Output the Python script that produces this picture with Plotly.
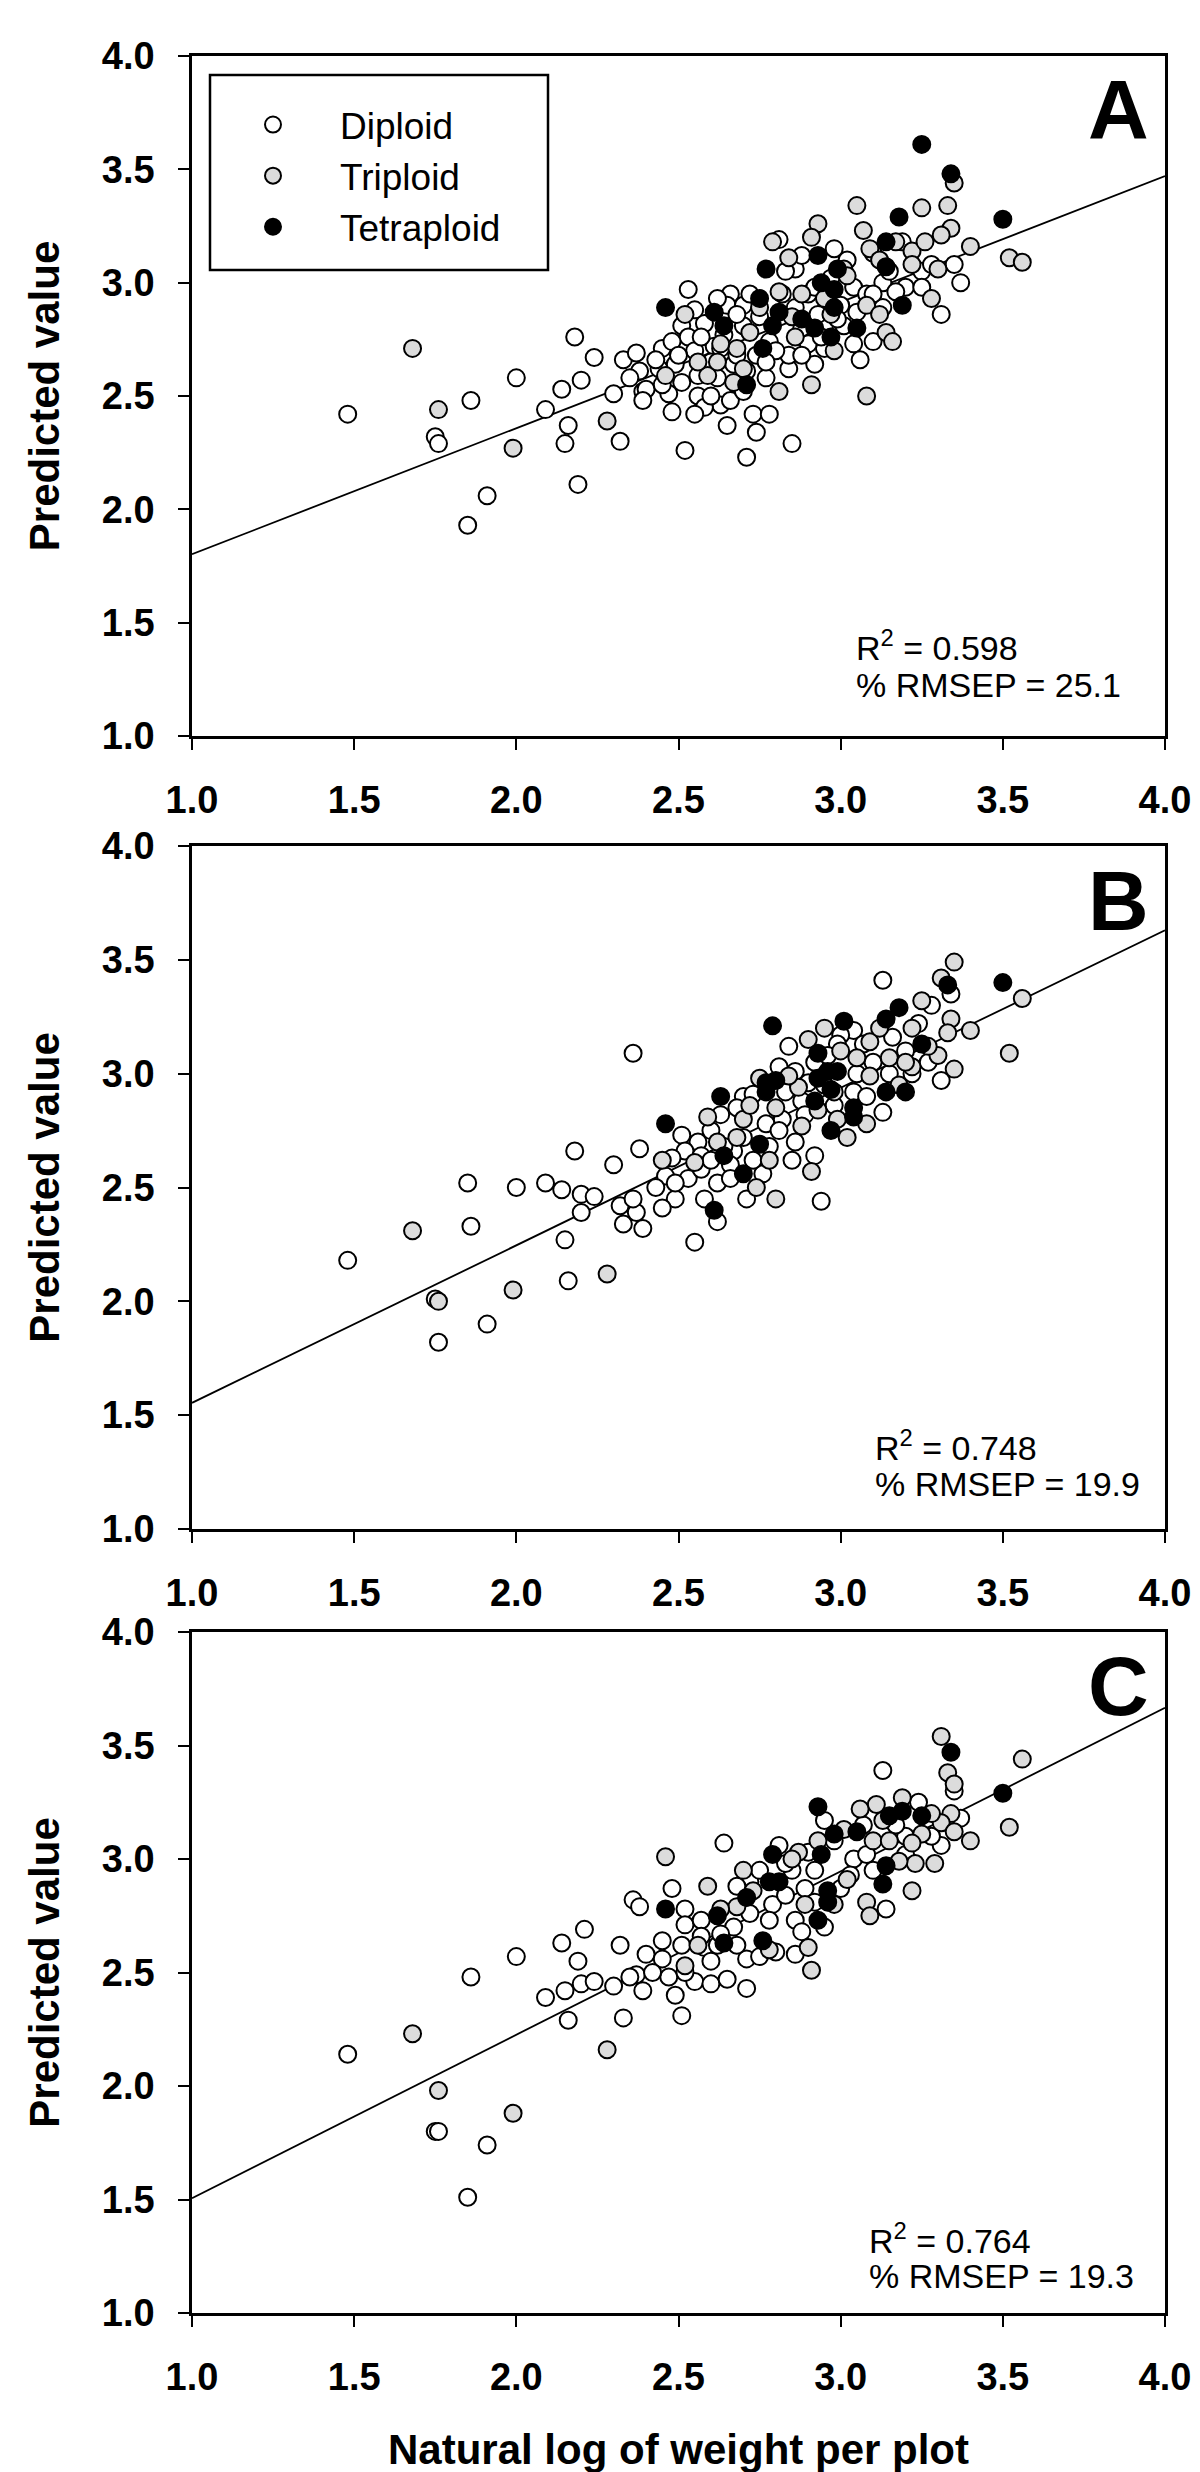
import plotly.graph_objects as go

# ---------------- data ----------------
X_RANGE = [1.0, 4.0]
Y_RANGE = [1.0, 4.0]
TICK_VALS = [1.0, 1.5, 2.0, 2.5, 3.0, 3.5, 4.0]
TICK_TEXT = ["1.0", "1.5", "2.0", "2.5", "3.0", "3.5", "4.0"]

PANELS = ["A", "B", "C"]
GROUPS = ["Diploid", "Triploid", "Tetraploid"]
R2 = ["0.598", "0.748", "0.764"]
RMSEP = ["25.1", "19.9", "19.3"]
FIT_INTERCEPT = [1.246, 0.862, 0.786]
FIT_SLOPE = [0.556, 0.692, 0.720]

# Panel A
a_dip_x = [1.48, 1.75, 1.76, 1.86, 2.00, 1.91, 1.85, 2.18, 2.24, 2.20, 2.14, 2.09, 2.16, 2.15, 2.32, 2.19,
           2.33, 2.37, 2.30, 2.38, 2.39, 3.35, 3.37, 3.31, 3.20, 3.13, 3.13, 3.04, 3.02, 2.86, 2.86, 2.95,
           3.04, 3.06, 3.10, 2.92, 2.84, 2.53, 2.66, 2.65, 2.58, 2.51, 2.70, 2.53, 2.61, 2.45, 2.49, 2.56,
           2.67, 2.74, 2.71, 2.40, 2.51, 2.56, 2.47, 2.48, 2.63, 2.58, 2.65, 2.73, 2.78, 2.74, 2.52, 2.71,
           2.85, 2.84, 2.95, 3.01, 3.19, 2.39, 2.63, 2.78, 2.90, 2.81, 2.70, 2.75, 2.88, 2.80, 2.60, 2.68,
           2.90, 3.00, 2.97, 3.08, 2.44, 2.55, 2.62, 2.77, 2.82, 2.93, 3.15, 3.25,
           2.55, 2.62, 2.68, 2.72, 2.57, 2.64, 2.48, 2.43, 2.50, 2.60, 2.66, 2.70, 2.45, 2.35, 2.55, 2.88,
           2.94, 2.99, 3.05, 3.10, 3.17, 3.25, 3.28, 3.10, 2.98, 2.88, 2.83, 2.92, 2.77, 2.68]
a_dip_y = [2.42, 2.32, 2.29, 2.48, 2.58, 2.06, 1.93, 2.76, 2.67, 2.57, 2.53, 2.44, 2.37, 2.29, 2.30, 2.11,
           2.66, 2.69, 2.51, 2.61, 2.52, 3.08, 3.00, 2.86, 2.98, 2.89, 3.00, 2.98, 3.10, 3.06, 2.89, 2.81,
           2.73, 2.66, 2.74, 2.64, 2.62, 2.97, 2.95, 2.90, 2.82, 2.81, 2.81, 2.76, 2.72, 2.71, 2.64, 2.59,
           2.64, 2.68, 2.61, 2.53, 2.56, 2.50, 2.51, 2.43, 2.46, 2.45, 2.37, 2.42, 2.42, 2.34, 2.26, 2.23,
           2.29, 2.68, 2.71, 2.81, 3.18, 2.48, 2.71, 2.74, 2.73, 3.19, 2.90, 2.85, 2.80, 2.70, 2.65, 2.55,
           2.95, 2.90, 3.02, 2.95, 2.62, 2.70, 2.58, 2.58, 2.95, 2.86, 3.05, 3.05,
           2.88, 2.93, 2.86, 2.95, 2.76, 2.77, 2.74, 2.66, 2.68, 2.50, 2.48, 2.52, 2.55, 2.58, 2.42, 2.68,
           2.76, 2.84, 2.87, 2.95, 2.96, 2.98, 3.08, 3.13, 3.15, 3.12, 3.05, 2.98, 2.65, 2.68]
a_tri_x = [1.68, 1.76, 1.99, 2.28, 3.05, 3.35, 3.25, 3.33, 2.93, 2.91, 2.79, 3.34, 3.31, 3.40, 3.52, 3.56,
           3.07, 3.09, 3.22, 3.22, 3.30, 3.28, 3.01, 2.88, 2.81, 3.08, 3.14, 3.16, 2.86, 2.68, 2.52, 2.46,
           2.59, 2.67, 2.81, 2.91, 3.08, 3.02, 2.95, 2.72, 3.12, 2.62, 2.98,
           2.75, 2.85, 2.97, 3.12, 2.70, 2.56, 2.63, 3.17, 3.26, 2.84]
a_tri_y = [2.71, 2.44, 2.27, 2.39, 3.34, 3.44, 3.33, 3.34, 3.26, 3.20, 3.18, 3.24, 3.21, 3.16, 3.11, 3.09,
           3.23, 3.15, 3.14, 3.08, 3.06, 2.93, 3.06, 2.95, 2.96, 2.90, 2.78, 2.74, 2.76, 2.71, 2.86, 2.59,
           2.59, 2.56, 2.52, 2.55, 2.50, 3.03, 2.93, 2.78, 3.10, 2.65, 2.70,
           2.89, 2.85, 2.86, 2.86, 2.62, 2.65, 2.73, 3.18, 3.18, 3.11]
a_tet_x = [3.25, 3.34, 3.50, 3.18, 3.14, 3.14, 3.19, 2.77, 2.46, 2.75, 2.64, 2.61, 2.81, 2.79, 2.76, 2.93,
           2.94, 2.98, 2.98, 2.92, 2.97, 3.05, 2.71, 2.88, 2.99]
a_tet_y = [3.61, 3.48, 3.28, 3.29, 3.18, 3.07, 2.90, 3.06, 2.89, 2.93, 2.81, 2.87, 2.87, 2.81, 2.71, 3.12,
           3.00, 2.97, 2.89, 2.80, 2.76, 2.80, 2.55, 2.84, 3.06]

# Panel B
b_dip_x = [2.36, 1.48, 1.86, 1.85, 2.00, 1.75, 1.76, 1.91, 2.15, 2.16, 2.18, 2.30, 2.38, 2.09, 2.14, 2.20,
           2.24, 2.20, 2.32, 2.33, 2.37, 2.39, 3.13, 3.34, 2.84, 3.04, 3.00, 2.81, 2.86, 3.04, 3.31, 3.13,
           2.77, 2.63, 2.51, 2.56, 2.86, 2.52, 2.48, 2.57, 2.67, 2.85, 2.92, 2.53, 2.62, 2.76, 2.58, 2.49,
           2.45, 2.71, 2.62, 2.55, 2.94, 2.99, 2.70, 2.88, 2.95, 3.10, 3.20, 2.78, 2.66, 3.05, 2.92, 3.22,
           2.82, 2.60,
           2.68, 2.73, 2.83, 2.90, 2.96, 3.07, 3.16, 3.24, 3.28, 2.57, 2.64, 2.70, 2.81, 2.89, 2.98, 3.08,
           2.46, 2.43, 2.66, 2.73, 2.36, 2.49, 2.60, 3.15, 3.27]
b_dip_y = [3.09, 2.18, 2.33, 2.52, 2.50, 2.01, 1.82, 1.90, 2.27, 2.09, 2.66, 2.60, 2.67, 2.52, 2.49, 2.47,
           2.46, 2.39, 2.42, 2.34, 2.39, 2.32, 3.41, 3.35, 3.12, 3.19, 3.17, 3.03, 3.01, 2.92, 2.97, 2.83,
           2.78, 2.82, 2.73, 2.70, 2.70, 2.66, 2.63, 2.64, 2.66, 2.62, 2.64, 2.54, 2.52, 2.56, 2.45, 2.45,
           2.41, 2.45, 2.35, 2.26, 2.44, 3.13, 2.90, 2.88, 2.95, 3.05, 3.10, 2.68, 2.60, 3.00, 3.05, 3.00,
           2.80, 2.75,
           2.85, 2.91, 2.92, 2.96, 3.08, 3.13, 3.16, 3.22, 3.30, 2.58, 2.68, 2.72, 2.75, 2.82, 2.86, 2.90,
           2.55, 2.50, 2.54, 2.62, 2.45, 2.52, 2.62, 3.00, 3.05]
b_tri_x = [1.68, 1.76, 1.99, 2.28, 3.35, 3.31, 3.56, 3.25, 3.34, 3.40, 3.33, 3.22, 3.52, 3.22, 3.30, 3.35,
           3.15, 3.09, 3.09, 3.05, 2.87, 2.80, 2.93, 3.08, 3.02, 2.88, 2.68, 2.70, 2.59, 2.45, 2.91, 2.80,
           2.74, 2.95, 2.90, 2.98, 3.18, 2.75,
           2.72, 2.84, 3.00, 3.12, 2.62, 2.78, 2.99, 3.20, 2.55, 3.27]
b_tri_y = [2.31, 2.00, 2.05, 2.12, 3.49, 3.42, 3.33, 3.32, 3.24, 3.19, 3.18, 3.20, 3.09, 3.03, 3.08, 3.02,
           3.07, 2.99, 3.14, 3.07, 2.94, 2.85, 2.84, 2.78, 2.72, 2.77, 2.72, 2.80, 2.81, 2.62, 2.57, 2.45,
           2.50, 3.20, 3.15, 2.92, 2.95, 2.98,
           2.86, 2.99, 3.10, 3.20, 2.70, 2.62, 2.80, 3.05, 2.61, 3.12]
b_tet_x = [3.50, 3.33, 2.79, 3.18, 3.14, 3.01, 3.25, 2.93, 2.96, 2.99, 2.93, 2.80, 2.77, 2.77, 2.97, 3.14,
           3.20, 2.92, 3.04, 3.04, 2.97, 2.63, 2.46, 2.75, 2.64, 2.70, 2.61]
b_tet_y = [3.40, 3.39, 3.21, 3.29, 3.24, 3.23, 3.13, 3.09, 3.01, 3.01, 2.98, 2.97, 2.96, 2.92, 2.93, 2.92,
           2.92, 2.88, 2.85, 2.81, 2.75, 2.90, 2.78, 2.69, 2.64, 2.56, 2.40]

# Panel C
c_dip_x = [1.48, 1.86, 2.00, 1.75, 1.76, 1.91, 1.85, 2.16, 2.33, 2.14, 2.21, 2.19, 2.32, 2.09, 2.15, 2.20,
           2.24, 2.30, 2.36, 2.38, 2.37, 2.39, 3.13, 3.35, 2.64, 2.81, 2.95, 3.04, 3.31, 3.37, 2.48, 2.79,
           2.89, 2.86, 2.52, 2.52, 2.57, 2.67, 2.78, 2.45, 2.51, 2.58, 2.71, 2.80, 2.86, 2.47, 2.55, 2.60,
           2.65, 2.71, 2.49, 2.51, 3.14, 3.00, 2.72, 2.92, 3.08, 2.62, 2.95, 3.20, 2.85, 2.40,
           2.68, 2.75, 2.83, 2.90, 2.98, 3.07, 3.17, 3.24, 2.57, 2.63, 2.72, 2.83, 2.92, 3.03, 3.10, 2.45,
           2.42, 2.60, 2.68, 2.75, 2.35, 2.52, 3.20, 3.28, 2.88]
c_dip_y = [2.14, 2.48, 2.57, 1.80, 1.80, 1.74, 1.51, 2.29, 2.30, 2.63, 2.69, 2.55, 2.62, 2.39, 2.42, 2.45,
           2.46, 2.44, 2.82, 2.79, 2.49, 2.42, 3.39, 3.30, 3.07, 3.06, 3.17, 3.00, 3.06, 3.18, 2.87, 2.80,
           2.87, 2.73, 2.78, 2.71, 2.73, 2.70, 2.73, 2.64, 2.62, 2.61, 2.56, 2.59, 2.58, 2.48, 2.46, 2.45,
           2.47, 2.43, 2.40, 2.31, 2.78, 2.87, 2.90, 2.95, 3.02, 2.62, 2.70, 3.10, 2.95, 2.58,
           2.88, 2.95, 2.98, 3.03, 3.08, 3.15, 3.15, 3.25, 2.66, 2.67, 2.76, 2.84, 2.81, 2.93, 2.95, 2.56,
           2.50, 2.55, 2.62, 2.57, 2.48, 2.50, 3.02, 3.10, 2.68]
c_tri_x = [1.68, 1.76, 1.99, 2.28, 3.31, 3.56, 3.33, 3.35, 3.52, 3.34, 3.40, 3.31, 3.25, 3.35, 3.19, 3.11,
           3.06, 3.10, 3.15, 3.23, 3.29, 3.18, 3.22, 2.87, 2.70, 2.93, 3.02, 3.08, 3.09, 2.89, 2.59, 2.46,
           2.68, 2.90, 2.91, 2.52,
           2.73, 2.85, 3.01, 3.13, 2.63, 2.78, 2.98, 3.22, 2.56, 3.28]
c_tri_y = [2.23, 1.98, 1.88, 2.16, 3.54, 3.44, 3.38, 3.33, 3.14, 3.20, 3.08, 3.16, 3.11, 3.12, 3.27, 3.24,
           3.22, 3.08, 3.08, 2.98, 2.98, 2.99, 2.86, 3.03, 2.95, 3.08, 2.91, 2.81, 2.75, 2.80, 2.88, 3.01,
           2.79, 2.61, 2.51, 2.53,
           2.86, 3.00, 3.13, 3.17, 2.78, 2.60, 2.80, 3.07, 2.62, 3.20]
c_tet_x = [3.34, 3.50, 2.93, 2.98, 3.05, 3.15, 3.19, 3.25, 2.79, 2.94, 2.78, 2.81, 3.14, 3.13, 2.96, 2.96,
           2.71, 2.93, 2.46, 2.64, 2.76, 2.62]
c_tet_y = [3.47, 3.29, 3.23, 3.11, 3.12, 3.19, 3.21, 3.19, 3.02, 3.02, 2.90, 2.90, 2.97, 2.89, 2.86, 2.81,
           2.83, 2.73, 2.78, 2.63, 2.64, 2.75]

DATA = [
    [(a_dip_x, a_dip_y), (a_tri_x, a_tri_y), (a_tet_x, a_tet_y)],
    [(b_dip_x, b_dip_y), (b_tri_x, b_tri_y), (b_tet_x, b_tet_y)],
    [(c_dip_x, c_dip_y), (c_tri_x, c_tri_y), (c_tet_x, c_tet_y)],
]

# ---------------- styling ----------------
FILLS = ["#ffffff", "#dcdcdc", "#000000"]
FONT = "Liberation Sans, Arial, Helvetica, sans-serif"
W, H = 1200, 2472
ML, MR, MT, MB = 184, 43, 48, 167
PH = H - MT - MB  # plot-area height in px
PW = W - ML - MR


def py(pix):  # pixel y -> paper y
    return (H - MB - pix) / PH


def px(pix):  # pixel x -> paper x
    return (pix - ML) / PW


PANEL_PIX = [(48, 728), (838, 1521), (1624, 2305)]
DOMAINS = [[py(b), py(t)] for (t, b) in PANEL_PIX]

fig = go.Figure()

for i in range(3):
    sfx = "" if i == 0 else str(i + 1)
    xref, yref = "x" + sfx, "y" + sfx
    # fit line
    fx = X_RANGE
    fy = [FIT_INTERCEPT[i] + FIT_SLOPE[i] * v for v in fx]
    fig.add_trace(go.Scatter(x=fx, y=fy, mode="lines", xaxis=xref, yaxis=yref,
                             line=dict(color="black", width=1.8), showlegend=False,
                             hoverinfo="skip"))
    for g in range(3):
        xs, ys = DATA[i][g]
        fig.add_trace(go.Scatter(
            x=xs, y=ys, mode="markers", xaxis=xref, yaxis=yref,
            name=GROUPS[g], legendgroup=GROUPS[g], showlegend=(i == 0),
            marker=dict(size=17, color=FILLS[g], line=dict(color="black", width=2)),
        ))

axis_common = dict(
    range=X_RANGE, tickvals=TICK_VALS, ticktext=TICK_TEXT,
    showline=True, linecolor="black", linewidth=2.6, mirror=True,
    ticks="outside", ticklen=11, tickwidth=2, tickcolor="black",
    showgrid=False, zeroline=False,
    tickfont=dict(family=FONT, size=38, color="black", weight="bold"),
    ticklabelstandoff=18,
)

layout = dict(
    width=W, height=H,
    margin=dict(l=ML, r=MR, t=MT, b=MB, autoexpand=False),
    paper_bgcolor="white", plot_bgcolor="white",
    font=dict(family=FONT, color="black"),
    showlegend=True,
    legend=dict(
        x=px(198), y=py(86), xanchor="left", yanchor="top",
        bgcolor="rgba(0,0,0,0)", borderwidth=0,
        font=dict(family=FONT, size=37, color="black"),
        itemwidth=124, tracegroupgap=0,
    ),
)
for i in range(3):
    sfx = "" if i == 0 else str(i + 1)
    xa = dict(axis_common, domain=[0, 1], anchor="y" + sfx)
    ya = dict(axis_common, domain=DOMAINS[i], anchor="x" + sfx, range=Y_RANGE,
              title=dict(text="Predicted value", standoff=30,
                         font=dict(family=FONT, size=42, color="black", weight="bold")))
    ya["ticklabelstandoff"] = 16
    if i == 2:
        xa["title"] = dict(text="Natural log of weight per plot", standoff=38,
                           font=dict(family=FONT, size=42, color="black", weight="bold"))
    layout["xaxis" + sfx] = xa
    layout["yaxis" + sfx] = ya

fig.update_layout(**layout)

# legend frame
fig.add_shape(type="rect", xref="paper", yref="paper",
              x0=px(202), x1=px(540), y0=py(262), y1=py(67),
              line=dict(color="black", width=2.5), fillcolor="rgba(0,0,0,0)")

R2_POS = [(3.04, 1.40, 1.225), (3.10, 1.365, 1.198), (3.08, 1.33, 1.163)]
for i in range(3):
    sfx = "" if i == 0 else str(i + 1)
    fig.add_annotation(text=PANELS[i], xref="x%s domain" % sfx, yref="y%s domain" % sfx,
                       x=0.952, y=0.92, xanchor="center", yanchor="middle", showarrow=False,
                       font=dict(family=FONT, size=84, color="black", weight="bold"))
    xr, yr1, yr2 = R2_POS[i]
    fig.add_annotation(text="R<sup>2</sup> = " + R2[i], xref="x" + sfx, yref="y" + sfx,
                       x=xr, y=yr1, xanchor="left", yanchor="middle", showarrow=False,
                       font=dict(family=FONT, size=34, color="black"))
    fig.add_annotation(text="% RMSEP = " + RMSEP[i], xref="x" + sfx, yref="y" + sfx,
                       x=xr, y=yr2, xanchor="left", yanchor="middle", showarrow=False,
                       font=dict(family=FONT, size=34, color="black"))

fig.write_html("out.html")
